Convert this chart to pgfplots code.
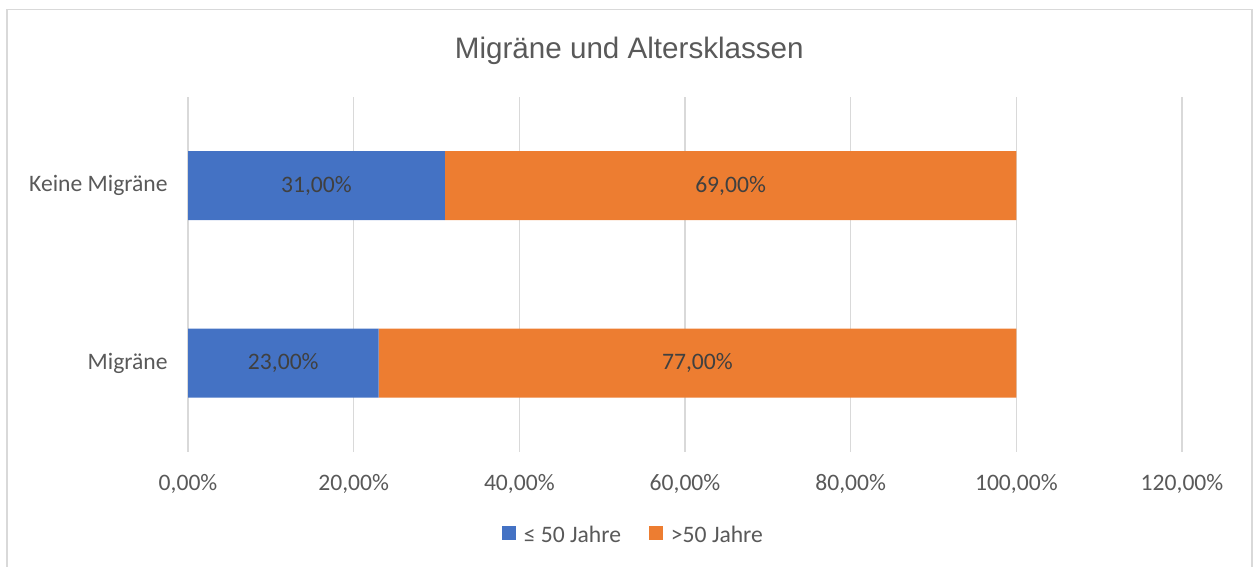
\documentclass[border=0pt]{standalone}
\usepackage{pgfplots}
\pgfplotsset{compat=1.18}
\usepackage{fontspec}
\setmainfont{Carlito}
\newfontfamily\titlefont{Liberation Sans}
\definecolor{cblue}{HTML}{4472C4}
\definecolor{corange}{HTML}{ED7D31}
\definecolor{tgray}{HTML}{595959}
\definecolor{dgray}{HTML}{404040}
\definecolor{ggray}{HTML}{D9D9D9}
\tikzset{dlab/.style={font=\fontsize{11.8pt}{14pt}\selectfont, text=dgray}}
\begin{document}
\begin{tikzpicture}
\useasboundingbox (0,0) rectangle (626.5pt,283.5pt);
\draw[ggray,line width=0.7pt] (3.5pt,-2pt) -- (3.5pt,278.6pt) -- (626pt,278.6pt) -- (626pt,-2pt);
\begin{axis}[
  at={(94pt,57.5pt)}, anchor=south west,
  scale only axis, width=497pt, height=177.5pt,
  xbar stacked, bar width=34.5pt,
  xmin=0, xmax=120, ymin=-0.5, ymax=1.5,
  xtick={0,20,...,120}, ytick={0,1},
  yticklabels={Migräne,Keine Migräne},
  /pgf/number format/assume math mode=true,
  xticklabel={\pgfmathprintnumber[fixed,fixed zerofill,precision=2,use comma]{\tick}\%},
  axis line style={draw=none},
  major tick length=0pt,
  xmajorgrids, major grid style={ggray,line width=0.7pt},
  tick label style={font=\fontsize{11.8pt}{14pt}\selectfont, text=tgray},
  xticklabel style={anchor=north, inner sep=0pt, yshift=-11pt},
  yticklabel style={anchor=east, inner sep=0pt, xshift=-10pt},
  title={\titlefont Migräne und Altersklassen},
  title style={at={(0.444,1.096)}, anchor=center, font=\fontsize{14.8pt}{17pt}\selectfont, text=tgray},
  legend style={draw=none, at={(0.449,-0.237)}, anchor=center, legend columns=2,
    font=\fontsize{11.8pt}{14pt}\selectfont, text=tgray,
    /tikz/every even column/.append style={column sep=12pt}},
  legend cell align=left,
]
\addplot+[draw=none, fill=cblue, legend image code/.code={\fill[cblue] (0pt,-2pt) rectangle (7pt,5pt); \path (9pt,0pt);}] coordinates {(23,0) (31,1)};
\addplot+[draw=none, fill=corange, legend image code/.code={\fill[corange] (0pt,-2pt) rectangle (7pt,5pt); \path (9pt,0pt);}] coordinates {(77,0) (69,1)};
\coordinate (l1) at (axis cs:11.5,0);
\coordinate (l2) at (axis cs:61.5,0);
\coordinate (l3) at (axis cs:15.5,1);
\coordinate (l4) at (axis cs:65.5,1);
\legend{≤ 50 Jahre, >50 Jahre}
\end{axis}
\node[dlab] at (l1) {23,00\%};
\node[dlab] at (l2) {77,00\%};
\node[dlab] at (l3) {31,00\%};
\node[dlab] at (l4) {69,00\%};
\end{tikzpicture}
\end{document}
